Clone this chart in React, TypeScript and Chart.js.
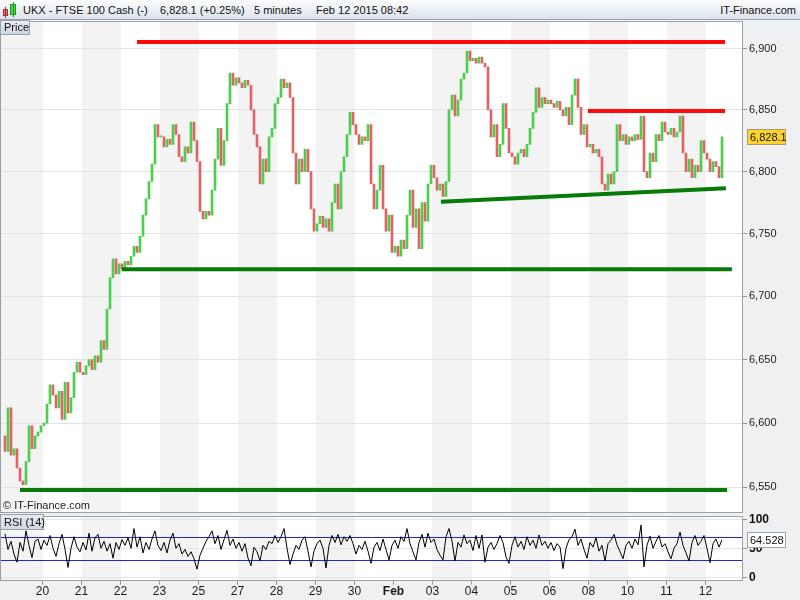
import React, { useEffect, useRef } from "react";
import { Chart, registerables } from "chart.js";

Chart.register(...registerables);

const FONT = "'Liberation Sans', Arial, Helvetica, sans-serif";

// Trading sessions shown (day of month) and the labels printed on the time axis
const sessionDays = [19, 20, 21, 22, 23, 26, 27, 28, 29, 30, 2, 3, 4, 5, 6, 9, 10, 11, 12];
const sessionLabels = ["", "20", "21", "22", "23", "25", "27", "28", "29", "30", "Feb", "03", "04", "05", "06", "08", "10", "11", "12"];
const barsPerSession = 13;

// Closing prices, one block per session
const jan19 = [6578, 6612, 6575, 6580, 6565, 6555, 6552, 6570, 6598, 6580, 6590, 6593, 6598];
const jan20 = [6600, 6615, 6630, 6622, 6612, 6625, 6603, 6632, 6608, 6620, 6640, 6648, 6640];
const jan21 = [6638, 6645, 6650, 6642, 6653, 6648, 6665, 6658, 6690, 6715, 6730, 6718, 6726];
const jan22 = [6722, 6728, 6725, 6732, 6740, 6735, 6748, 6765, 6778, 6792, 6806, 6838, 6828];
const jan23 = [6828, 6820, 6826, 6822, 6838, 6830, 6812, 6808, 6820, 6815, 6840, 6825, 6808];
const jan26 = [6768, 6762, 6768, 6765, 6785, 6810, 6835, 6805, 6825, 6855, 6880, 6870, 6876];
const jan27 = [6872, 6868, 6874, 6870, 6850, 6830, 6820, 6790, 6810, 6800, 6828, 6835, 6855];
const jan28 = [6860, 6875, 6868, 6872, 6860, 6815, 6790, 6810, 6800, 6818, 6800, 6770, 6752];
const jan29 = [6758, 6764, 6755, 6762, 6752, 6775, 6790, 6770, 6800, 6812, 6830, 6848, 6838];
const jan30 = [6830, 6822, 6828, 6825, 6838, 6790, 6770, 6785, 6805, 6770, 6752, 6765, 6735];
const feb02 = [6740, 6732, 6745, 6738, 6765, 6785, 6755, 6770, 6738, 6775, 6760, 6790, 6805];
const feb03 = [6795, 6785, 6790, 6780, 6792, 6850, 6862, 6845, 6858, 6875, 6880, 6898, 6890];
const feb04 = [6892, 6888, 6893, 6888, 6885, 6850, 6828, 6838, 6812, 6822, 6855, 6835, 6815];
const feb05 = [6812, 6806, 6815, 6818, 6812, 6822, 6835, 6848, 6868, 6852, 6860, 6855, 6858];
const feb06 = [6855, 6852, 6857, 6850, 6845, 6852, 6838, 6862, 6875, 6852, 6830, 6838, 6820];
const feb09 = [6822, 6815, 6818, 6812, 6790, 6785, 6798, 6790, 6800, 6838, 6825, 6830, 6822];
const feb10 = [6828, 6825, 6830, 6826, 6845, 6800, 6795, 6815, 6808, 6830, 6825, 6840, 6832];
const feb11 = [6830, 6835, 6828, 6832, 6845, 6815, 6800, 6810, 6795, 6805, 6800, 6825, 6815];
const feb12 = [6810, 6800, 6808, 6804, 6795, 6828.1];
const firstOpen = 6590;

const closes = [
  ...jan19, ...jan20, ...jan21, ...jan22, ...jan23, ...jan26, ...jan27, ...jan28, ...jan29, ...jan30,
  ...feb02, ...feb03, ...feb04, ...feb05, ...feb06, ...feb09, ...feb10, ...feb11, ...feb12,
];

// RSI (14) values, one per bar
const rsiPart1 = [
  75, 48, 62, 40, 26, 60, 45, 80, 55, 34, 62, 66, 48, 64, 55, 72, 50, 36, 58, 74,
  48, 17, 50, 70, 52, 44, 60, 47, 76, 45, 68, 74, 50, 62, 45, 58, 33, 60, 48, 65,
  55, 68, 50, 84, 52, 70, 42, 60, 48, 66, 80, 55, 46, 60, 42, 64, 76, 50, 58, 40,
];
const rsiPart2 = [
  48, 36, 44, 32, 14, 38, 50, 62, 70, 80, 58, 72, 48, 65, 81, 55, 66, 50, 60, 45,
  58, 33, 20, 52, 44, 28, 55, 48, 62, 58, 72, 60, 70, 84, 50, 22, 40, 55, 48, 64,
  70, 45, 18, 45, 58, 64, 50, 16, 55, 72, 60, 74, 56, 70, 62, 72, 58, 40, 55, 48,
];
const rsiPart3 = [
  62, 45, 24, 52, 60, 46, 66, 48, 30, 55, 64, 50, 70, 62, 84, 58, 44, 30, 60, 74,
  52, 76, 60, 66, 48, 38, 30, 70, 84, 62, 28, 60, 52, 73, 58, 64, 46, 72, 50, 73,
  26, 52, 60, 48, 58, 72, 60, 35, 24, 55, 70, 52, 62, 48, 70, 55, 64, 50, 73, 55,
];
const rsiPart4 = [
  62, 50, 60, 46, 58, 52, 15, 50, 65, 70, 83, 55, 66, 48, 33, 60, 52, 68, 45, 55,
  28, 58, 64, 74, 56, 44, 32, 55, 62, 50, 66, 56, 90, 18, 55, 71, 50, 62, 72, 52,
  58, 44, 32, 50, 58, 78, 55, 42, 28, 60, 72, 55, 62, 72, 50, 25, 58, 66, 52, 64.528,
];
const rsiValues = [...rsiPart1, ...rsiPart2, ...rsiPart3, ...rsiPart4];

// Price axis
const priceTicks = [6550, 6600, 6650, 6700, 6750, 6800, 6850, 6900];
const priceMin = 6530.4;
const priceMax = 6923.0;

// Drawn trend lines: [start bar, end bar, start price, end price]
const resistanceLines = [
  [44, 240, 6905.3, 6905.3],
  [194.3, 240, 6849.0, 6849.0],
];
const supportLines = [
  [38.9, 242.3, 6721.6, 6721.6],
  [5, 240.7, 6547.8, 6547.8],
  [145.3, 240.3, 6775.7, 6786.5],
];

// RSI axis
const rsiTicks = [0, 50, 100];
const rsiBands = [30, 70];
const rsiMin = -5.9;
const rsiMax = 106.2;

const xMin = -5 / 3;
const xMax = 246;

const GREEN = "#4ccf4c";
const RED = "#e06464";
const GRID = "#e3e3e3";
const TICK = "#8b96a2";
const FRAME = "#97a1ab";

const stripePlugin = {
  id: "stripes",
  beforeDraw(chart: any) {
    const { ctx, chartArea: a } = chart;
    const x = chart.scales.x;
    ctx.save();
    ctx.fillStyle = "#ffffff";
    ctx.fillRect(a.left, a.top, a.width, a.height);
    ctx.fillStyle = "#f3f3f3";
    sessionDays.forEach((d, k) => {
      if (d % 2 === 0) return;
      let x0 = x.getPixelForValue(k * barsPerSession - 0.5);
      let x1 = x.getPixelForValue((k + 1) * barsPerSession - 0.5);
      if (k === 0) x0 = a.left;
      x0 = Math.max(a.left, Math.round(x0));
      x1 = Math.min(a.right, Math.round(x1));
      ctx.fillRect(x0, a.top, x1 - x0, a.height);
    });
    ctx.restore();
  },
  afterDraw(chart: any) {
    const { ctx, chartArea: a } = chart;
    ctx.save();
    ctx.strokeStyle = FRAME;
    ctx.lineWidth = 1;
    ctx.strokeRect(Math.round(a.left) + 0.5, Math.round(a.top) + 0.5, Math.round(a.width) - 1, Math.round(a.height) - 1);
    ctx.restore();
  },
};

function valueBox(id: string, value: number, text: string, fill: string, border: string) {
  return {
    id,
    afterDraw(chart: any) {
      const { ctx, chartArea: a } = chart;
      const y = Math.round(chart.scales.y.getPixelForValue(value));
      const left = Math.round(a.right) + 4.5;
      ctx.save();
      ctx.fillStyle = fill;
      ctx.fillRect(left, y - 7.5, 38, 15);
      ctx.strokeStyle = border;
      ctx.lineWidth = 1;
      ctx.strokeRect(left, y - 7.5, 38, 15);
      ctx.fillStyle = "#111";
      ctx.font = `11px ${FONT}`;
      ctx.textBaseline = "middle";
      ctx.fillText(text, left + 2.5, y + 0.5);
      ctx.restore();
    },
  };
}

const bandPlugin = {
  id: "bands",
  beforeDatasetsDraw(chart: any) {
    const { ctx, chartArea: a } = chart;
    const y = chart.scales.y;
    ctx.save();
    ctx.strokeStyle = "#2323d8";
    ctx.lineWidth = 1;
    rsiBands.forEach((b) => {
      const py = Math.round(y.getPixelForValue(b)) + 0.5;
      ctx.beginPath();
      ctx.moveTo(a.left, py);
      ctx.lineTo(a.right, py);
      ctx.stroke();
    });
    ctx.restore();
  },
};

function trendDataset(line: number[], color: string) {
  return {
    type: "line" as const,
    data: [
      { x: line[0], y: line[2] },
      { x: line[1], y: line[3] },
    ],
    borderColor: color,
    borderWidth: 4,
    pointRadius: 0,
    borderCapStyle: "butt",
    order: 0,
  };
}

function fixRightAxis(min: number, max: number, ticks: number[]) {
  return {
    bounds: "data",
    afterBuildTicks: (s: any) => {
      s.ticks = ticks.map((v) => ({ value: v }));
      s.min = min;
      s.max = max;
    },
    afterFit: (s: any) => {
      s.width = 57;
      s.paddingTop = 0;
      s.paddingBottom = 0;
    },
  };
}

export default function App() {
  const priceRef = useRef<HTMLCanvasElement>(null);
  const rsiRef = useRef<HTMLCanvasElement>(null);

  useEffect(() => {
    const opens = closes.map((_, i) => (i === 0 ? firstOpen : closes[i - 1]));
    const candleData = closes.map((c, i) => ({ x: i, y: [opens[i], c] }));
    const candleColors = closes.map((c, i) => (c >= opens[i] ? GREEN : RED));
    const lastClose = closes[closes.length - 1];
    const lastRsi = rsiValues[rsiValues.length - 1];

    const price = new Chart(priceRef.current as HTMLCanvasElement, {
      type: "line",
      data: {
        datasets: [
          ...resistanceLines.map((l) => trendDataset(l, "#ff0a0a")),
          ...supportLines.map((l) => trendDataset(l, "#087a08")),
          {
            type: "bar",
            data: candleData as any,
            backgroundColor: candleColors,
            barThickness: 2,
            minBarLength: 1,
            borderWidth: 0,
            order: 1,
          },
        ] as any,
      },
      options: {
        animation: false,
        responsive: false,
        maintainAspectRatio: false,
        events: [],
        layout: { padding: { left: 0, right: 0, top: 20.5, bottom: 0.5 } },
        plugins: { legend: { display: false }, tooltip: { enabled: false } },
        scales: {
          x: { type: "linear", min: xMin, max: xMax, offset: false, display: false },
          y: {
            type: "logarithmic",
            position: "right",
            min: priceMin,
            max: priceMax,
            ...fixRightAxis(priceMin, priceMax, priceTicks),
            grid: { color: GRID, tickColor: TICK, tickLength: 4 },
            border: { display: false },
            ticks: {
              autoSkip: false,
              padding: 2,
              color: "#1a1a1a",
              font: { family: FONT, size: 11 },
              callback: (v: any) => Number(v).toLocaleString("en-US"),
            },
          },
        },
      } as any,
      plugins: [
        stripePlugin,
        valueBox("lastPrice", lastClose, lastClose.toLocaleString("en-US", { minimumFractionDigits: 1 }), "#ffd42a", "#a99a6c"),
      ],
    });

    const rsi = new Chart(rsiRef.current as HTMLCanvasElement, {
      type: "line",
      data: {
        datasets: [
          {
            data: rsiValues.map((v, i) => ({ x: i, y: v })) as any,
            borderColor: "#000000",
            borderWidth: 1,
            pointRadius: 0,
            tension: 0,
          },
        ],
      },
      options: {
        animation: false,
        responsive: false,
        maintainAspectRatio: false,
        events: [],
        layout: { padding: { left: 0, right: 0, top: 2.7, bottom: 0 } },
        plugins: { legend: { display: false }, tooltip: { enabled: false } },
        scales: {
          x: {
            type: "linear",
            min: xMin,
            max: xMax,
            offset: false,
            position: "bottom",
            afterBuildTicks: (s: any) => {
              s.ticks = sessionLabels.slice(1).map((_, k) => ({ value: (k + 1) * barsPerSession - 0.5 }));
            },
            afterFit: (s: any) => {
              s.height = 19.3;
              s.paddingLeft = 0;
              s.paddingRight = 0;
            },
            grid: { drawOnChartArea: false, drawTicks: true, tickLength: 4, tickColor: TICK },
            border: { display: false },
            ticks: {
              autoSkip: false,
              maxRotation: 0,
              padding: 0,
              color: "#1a1a1a",
              font: (ctx: any) => ({
                family: FONT,
                size: 12,
                weight: sessionLabels[ctx.index + 1] === "Feb" ? "bold" : "normal",
              }),
              callback: (_v: any, i: number) => sessionLabels[i + 1],
            },
          },
          y: {
            type: "linear",
            position: "right",
            min: rsiMin,
            max: rsiMax,
            ...fixRightAxis(rsiMin, rsiMax, rsiTicks),
            grid: { color: GRID, tickColor: TICK, tickLength: 4 },
            border: { display: false },
            ticks: {
              autoSkip: false,
              padding: 2,
              color: "#111",
              font: { family: FONT, size: 12, weight: "bold" },
            },
          },
        },
      } as any,
      plugins: [stripePlugin, bandPlugin, valueBox("lastRsi", lastRsi, lastRsi.toFixed(3), "#ffffff", "#9aa4ae")],
    });

    return () => {
      price.destroy();
      rsi.destroy();
    };
  }, []);

  const labelBox: React.CSSProperties = {
    position: "absolute",
    left: 0,
    background: "linear-gradient(#e6ebf0, #cfd8e1)",
    border: `1px solid ${FRAME}`,
    fontFamily: FONT,
    fontSize: 11,
    color: "#111",
    lineHeight: "13px",
    padding: "0 3px",
    boxSizing: "border-box",
    whiteSpace: "nowrap",
  };

  return (
    <div
      style={{
        position: "fixed",
        left: 0,
        top: 0,
        width: 800,
        height: 600,
        background: "#eef0f2",
        overflow: "hidden",
        fontFamily: FONT,
      }}
    >
      <canvas ref={priceRef} width={800} height={513} style={{ position: "absolute", left: 0, top: 0, width: 800, height: 513 }} />
      <canvas ref={rsiRef} width={800} height={87} style={{ position: "absolute", left: 0, top: 513, width: 800, height: 87 }} />

      <div
        style={{
          position: "absolute",
          left: 0,
          top: 0,
          width: 800,
          height: 20,
          background: "linear-gradient(#fcfdfe, #dce3ea)",
          borderBottom: `1px solid ${FRAME}`,
          boxSizing: "border-box",
          fontSize: 11,
          color: "#111",
        }}
      >
        <div style={{ position: "absolute", left: 3, top: 9, width: 5, height: 7, background: RED, border: "1px solid #a33", boxSizing: "border-box" }} />
        <div style={{ position: "absolute", left: 5, top: 7, width: 1, height: 11, background: "#a33" }} />
        <div style={{ position: "absolute", left: 10, top: 4, width: 6, height: 11, background: GREEN, border: "1px solid #292", boxSizing: "border-box" }} />
        <div style={{ position: "absolute", left: 12.5, top: 2, width: 1, height: 15, background: "#292" }} />
        <span style={{ position: "absolute", left: 23, top: 4 }}>UKX - FTSE 100 Cash (-)</span>
        <span style={{ position: "absolute", left: 160, top: 4 }}>6,828.1 (+0.25%)</span>
        <span style={{ position: "absolute", left: 254, top: 4 }}>5 minutes</span>
        <span style={{ position: "absolute", left: 316, top: 4 }}>Feb 12 2015 08:42</span>
        <span style={{ position: "absolute", right: 4, top: 4 }}>IT-Finance.com</span>
      </div>

      <div style={{ ...labelBox, top: 20, height: 15, width: 30 }}>Price</div>
      <div style={{ ...labelBox, top: 514, height: 16, width: 44, lineHeight: "14px" }}>RSI (14)</div>
      <div style={{ position: "absolute", left: 3, top: 499, fontSize: 11, color: "#222" }}>© IT-Finance.com</div>
    </div>
  );
}
